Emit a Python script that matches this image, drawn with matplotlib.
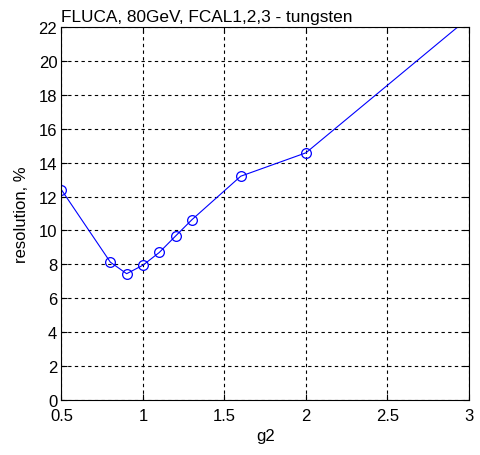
import matplotlib
matplotlib.use("Agg")
import matplotlib.pyplot as plt

# g2 scan, resolution in %
g2 = [0.5, 0.8, 0.9, 1.0, 1.1, 1.2, 1.3, 1.6, 2.0, 3.0]
resolution = [12.4, 8.13, 7.45, 7.95, 8.7, 9.67, 10.63, 13.2, 14.58, 22.55]

xticks = [0.5, 1, 1.5, 2, 2.5, 3]
xticklabels = ["0.5", "1", "1.5", "2", "2.5", "3"]
yticks = list(range(0, 23, 2))

plt.rcParams['font.family'] = ['Liberation Sans', 'DejaVu Sans']
plt.rcParams['font.size'] = 12

fig = plt.figure(figsize=(4.8, 4.56), dpi=100)
ax = fig.add_axes([0.128, 0.1206, 0.849, 0.818])

ax.plot(g2, resolution, color='#0000ff', lw=0.8, marker='o', ms=7,
        mfc='none', mec='#0000ff', mew=0.9)

ax.set_xlim(0.5, 3)
ax.set_ylim(0, 22)
ax.set_xticks(xticks)
ax.set_xticklabels(xticklabels)
ax.set_yticks(yticks)
ax.tick_params(direction='in', length=4, width=0.8, top=True, right=True)
ax.tick_params(axis='x', pad=5.5)
ax.tick_params(axis='y', pad=3)
ax.grid(True, color='black', linestyle=(0, (3, 3)), linewidth=0.8)
for s in ax.spines.values():
    s.set_linewidth(0.8)

ax.set_xlabel("g2", labelpad=4)
ax.set_ylabel("resolution, %", labelpad=7)
ax.set_title("FLUCA, 80GeV, FCAL1,2,3 - tungsten", loc='left', pad=4, fontsize=12.4)

fig.savefig("out.png", dpi=100)
